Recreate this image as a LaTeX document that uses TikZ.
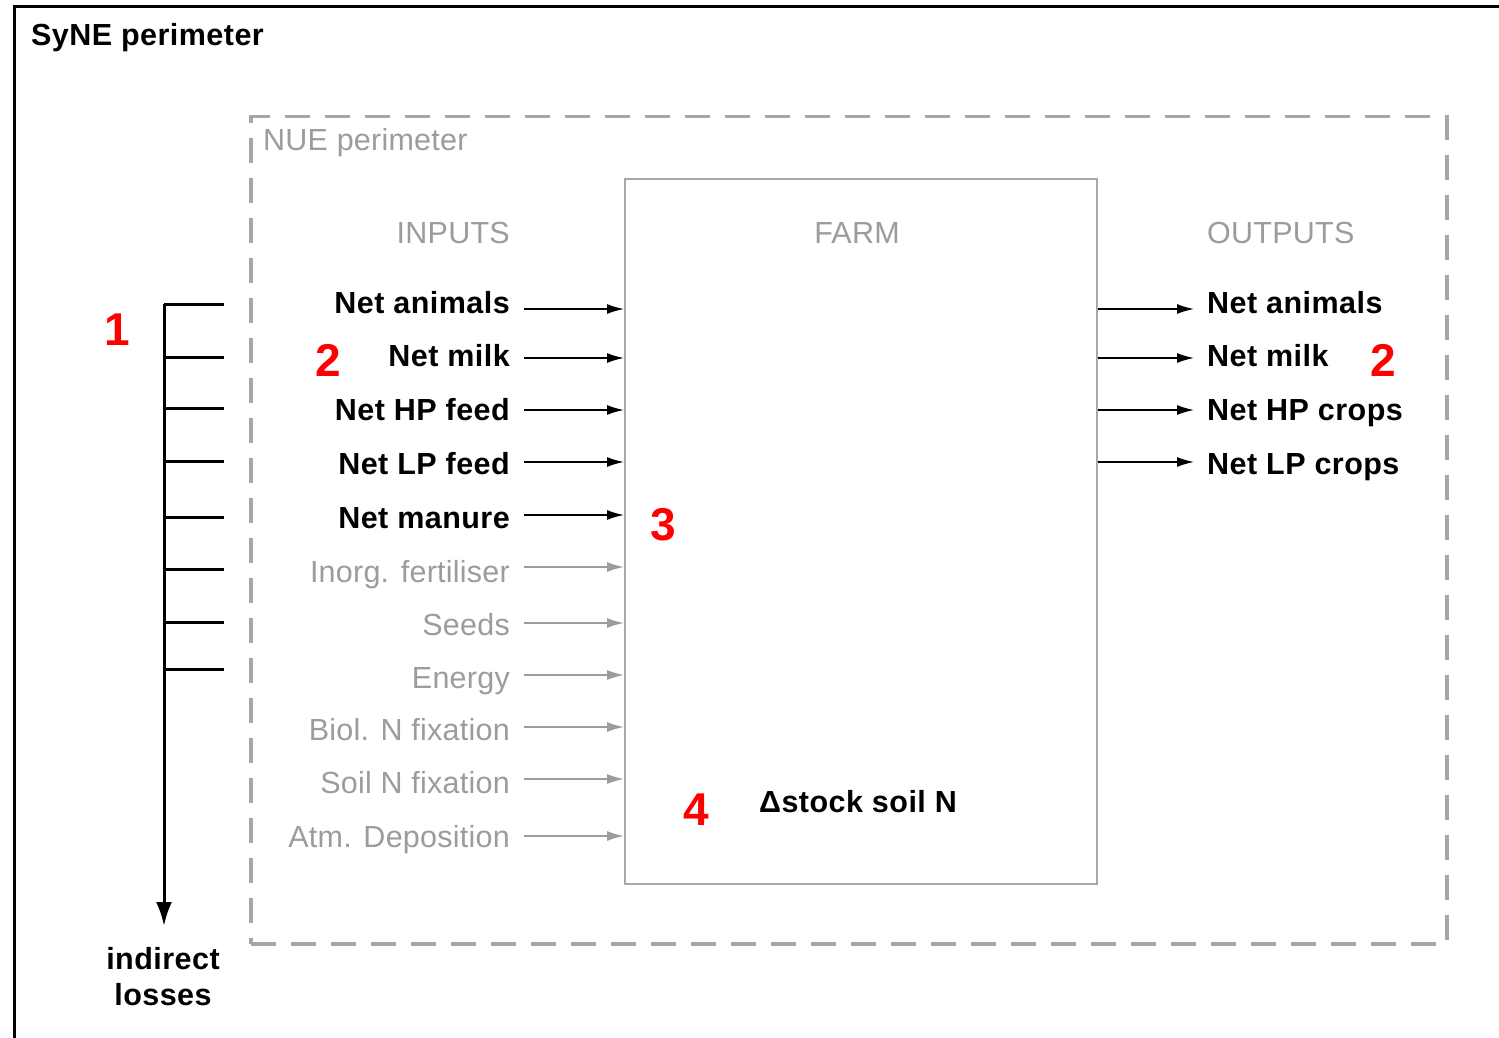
\documentclass[tikz,border=0pt]{standalone}
\usepackage{fontspec}
\setmainfont{Liberation Sans}[BoldFeatures={LetterSpace=1.5}, UprightFeatures={LetterSpace=0.8}]
\usetikzlibrary{arrows.meta}
\definecolor{lgray}{HTML}{A6A6A6}
\definecolor{tgray}{HTML}{9C9C9C}
\definecolor{bgray}{HTML}{A8A8A8}
\begin{document}
\begin{tikzpicture}[x=1pt,y=-1pt,
  blk/.style={inner sep=0pt, font=\fontsize{30.5}{36}\selectfont\bfseries, text=black},
  gry/.style={inner sep=0pt, font=\fontsize{30.5}{36}\selectfont, text=tgray},
  num/.style={inner sep=0pt, font=\fontsize{46}{50}\selectfont\bfseries, text=red},
  inarr/.style={-{Latex[length=17pt,width=10pt]}, line width=1.5pt, black},
  grarr/.style={-{Latex[length=17pt,width=10pt]}, line width=1.5pt, tgray},
  tick/.style={line width=3pt, black}
]
\useasboundingbox (0,0) rectangle (1499,1038);
\fill[white] (0,0) rectangle (1499,1038);

% outer SyNE frame (right and bottom edges lie outside the picture)
\coordinate (synebl) at (14,1040);
\coordinate (synetl) at (14,7);
\coordinate (synetr) at (1501,7);
\draw[line width=3pt, black] (synebl) -- (synetl) -- (synetr);
\node[blk, anchor=base west] (synelab) at (31,46) {SyNE perimeter};

% NUE dashed frame
\node[draw=lgray, line width=3.5pt, dash pattern=on 25pt off 15pt, inner sep=0pt,
      minimum width=1196pt, minimum height=827pt, anchor=north west] (nue) at (249,115) {};
\node[gry, anchor=base west] (nuelab) at (263,150) {NUE perimeter};

% FARM box
\node[draw=bgray, line width=1.5pt, inner sep=0pt,
      minimum width=472pt, minimum height=705pt, anchor=north west] (farm) at (624,178) {};
\node[gry, anchor=base] (farmlab) at (857,243) {FARM};
\node[gry, anchor=base east] (inlab) at (510,243) {INPUTS};
\node[gry, anchor=base west] (outlab) at (1207,243) {OUTPUTS};

% inputs
\node[blk, anchor=base east] (i1) at (510,313) {Net animals};
\node[blk, anchor=base east] (i2) at (510,366) {Net milk};
\node[blk, anchor=base east] (i3) at (510,420) {Net HP feed};
\node[blk, anchor=base east] (i4) at (510,474) {Net LP feed};
\node[blk, anchor=base east] (i5) at (510,528) {Net manure};
\node[gry, anchor=base east] (i6) at (510,582) {Inorg. fertiliser};
\node[gry, anchor=base east] (i7) at (510,635) {Seeds};
\node[gry, anchor=base east] (i8) at (510,688) {Energy};
\node[gry, anchor=base east] (i9) at (510,740) {Biol. N fixation};
\node[gry, anchor=base east] (i10) at (510,793) {Soil N fixation};
\node[gry, anchor=base east] (i11) at (510,847) {Atm. Deposition};

\coordinate (a1) at (524,309);
\coordinate (a2) at (524,358);
\coordinate (a3) at (524,410);
\coordinate (a4) at (524,462);
\coordinate (a5) at (524,515);
\coordinate (a6) at (524,567);
\coordinate (a7) at (524,623);
\coordinate (a8) at (524,675);
\coordinate (a9) at (524,727);
\coordinate (a10) at (524,779);
\coordinate (a11) at (524,836);
\foreach \k in {1,...,5} {\draw[inarr] (a\k) -- (a\k -| farm.west);}
\foreach \k in {6,...,11} {\draw[grarr] (a\k) -- (a\k -| farm.west);}

% outputs
\coordinate (b1) at (1194,309);
\coordinate (b2) at (1194,358);
\coordinate (b3) at (1194,410);
\coordinate (b4) at (1194,462);
\foreach \k in {1,...,4} {\draw[inarr] (b\k -| farm.east) -- (b\k);}
\node[blk, anchor=base west] (o1) at (1207,313) {Net animals};
\node[blk, anchor=base west] (o2) at (1207,366) {Net milk};
\node[blk, anchor=base west] (o3) at (1207,420) {Net HP crops};
\node[blk, anchor=base west] (o4) at (1207,474) {Net LP crops};

% soil stock
\node[blk, anchor=base west] (soil) at (759,812) {Δstock soil N};

% indirect losses bracket
\coordinate (vtop) at (164,304);
\coordinate (vbot) at (164,926);
\draw[tick, -{Latex[length=24pt,width=16pt]}] (vtop) -- (vbot);
\coordinate (t1) at (224,304);
\coordinate (t2) at (224,357);
\coordinate (t3) at (224,408);
\coordinate (t4) at (224,461);
\coordinate (t5) at (224,517);
\coordinate (t6) at (224,569);
\coordinate (t7) at (224,622);
\coordinate (t8) at (224,669);
\foreach \k in {1,...,8} {\draw[tick] (t\k -| vtop) -- (t\k);}
\node[blk, anchor=base] (loss1) at (163,969) {indirect};
\node[blk, anchor=base] (loss2) at (163,1005) {losses};

% red numbers
\node[num, anchor=base west] (n1) at (104,345) {1};
\node[num, anchor=base west] (n2a) at (315,376) {2};
\node[num, anchor=base west] (n2b) at (1370,376) {2};
\node[num, anchor=base west] (n3) at (650,540) {3};
\node[num, anchor=base west] (n4) at (683,825) {4};
\end{tikzpicture}
\end{document}
